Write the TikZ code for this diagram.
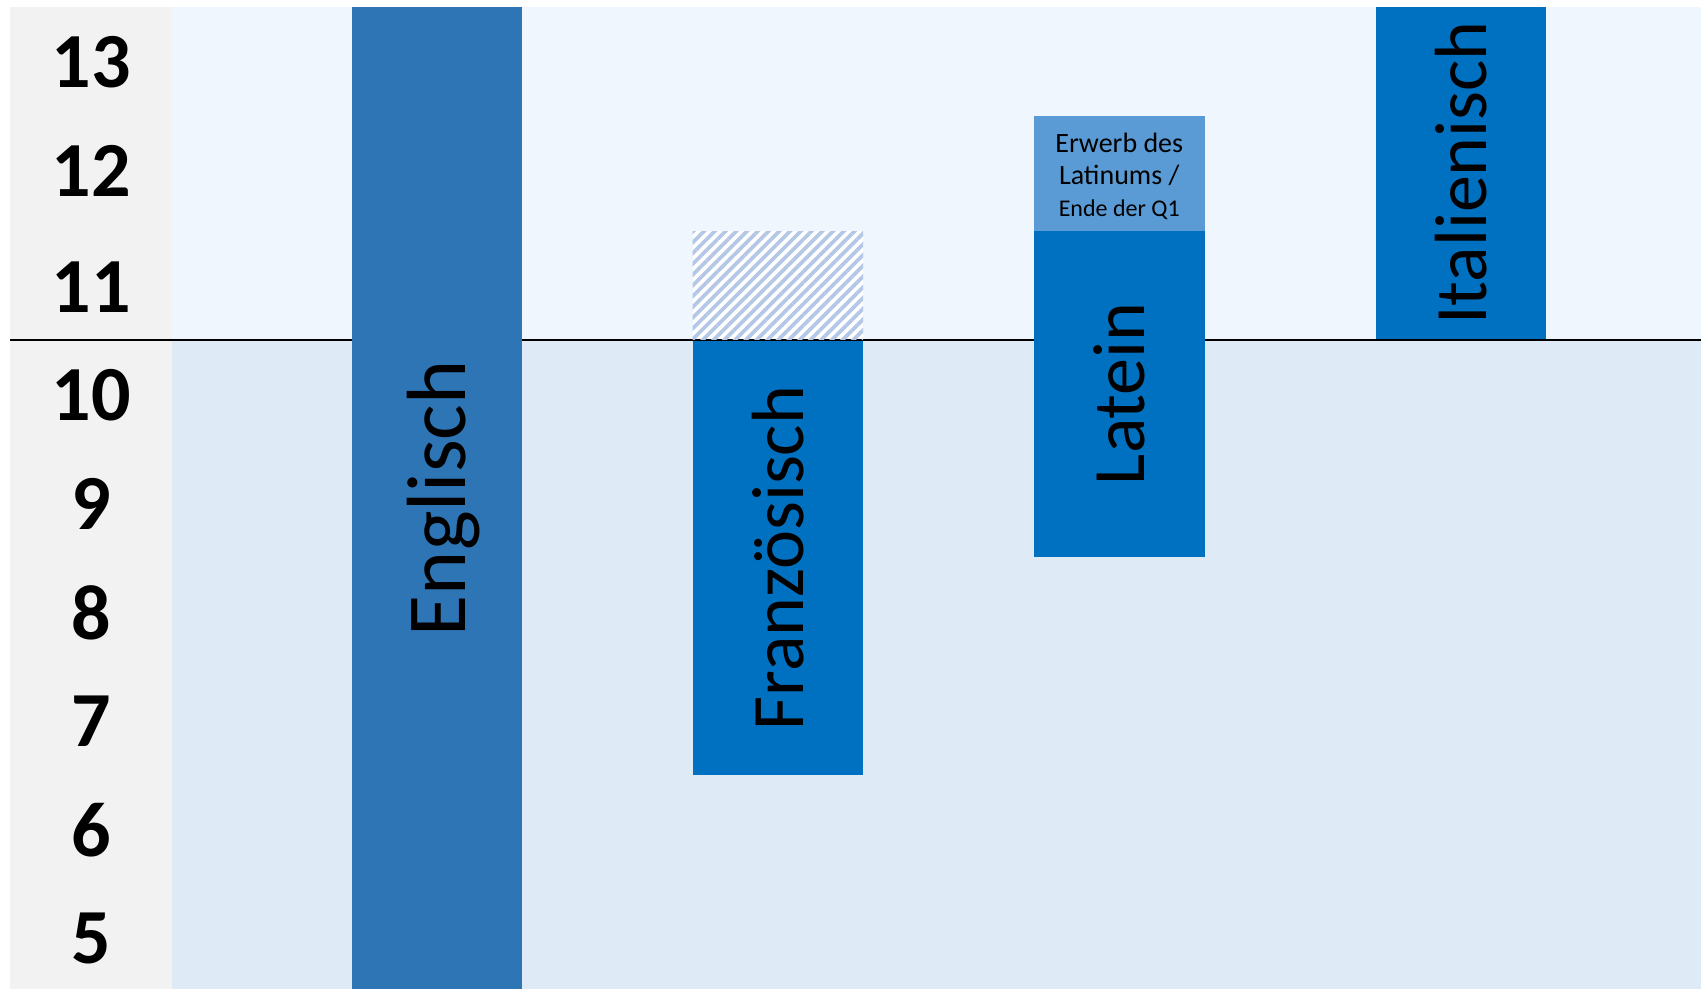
\documentclass[tikz,border=0pt]{standalone}
\usepackage{fontspec}
\setmainfont{Carlito}
\usepackage{xcolor}
\usetikzlibrary{positioning,patterns.meta}

\definecolor{greycol}{HTML}{F2F2F2}
\definecolor{upperbg}{HTML}{EFF6FD}
\definecolor{lowerbg}{HTML}{DEEBF7}
\definecolor{englblue}{HTML}{2E75B6}
\definecolor{darkblue}{HTML}{0070C0}
\definecolor{lightblue}{HTML}{5B9BD5}
\definecolor{hatchblue}{HTML}{B4C7E7}

\begin{document}
\begin{tikzpicture}[x=1pt, y=-1pt,
    bar/.style = {rectangle, inner sep=0pt, outer sep=0pt, anchor=north west},
    lang/.style = {rotate=90, inner sep=0pt, text depth=0pt, font=\fontsize{74}{74}\selectfont},
    num/.style = {inner sep=0pt, font=\fontsize{78}{78}\selectfont\bfseries}]
    \useasboundingbox (0,0) rectangle (1701,989);
    \fill[white] (0,0) rectangle (1701,989);

    % Hintergrund
    \fill[greycol] (10,7.3) rectangle (171.7,989);
    \fill[upperbg] (171.7,7.3) rectangle (1701,340);
    \fill[lowerbg] (171.7,340) rectangle (1701,989);
    \draw[line width=2.7pt] (10,340) -- (1701,340);

    % Jahrgangsstufen
    \node[num] (j13) at (91,62.3) {13};
    \node[num] (j12) at (91,171.4) {12};
    \node[num] (j11) at (91,287.5) {11};
    \node[num] (j10) at (91,395) {10};
    \node[num] (j9) at (91,503.75) {9};
    \node[num] (j8) at (91,612.5) {8};
    \node[num] (j7) at (91,721.25) {7};
    \node[num] (j6) at (91,830) {6};
    \node[num] (j5) at (91,938.75) {5};

    % Englisch
    \node[bar, fill=englblue, minimum width=170.5pt, minimum height=981.7pt] (engl) at (351.5,7.3) {};
    \node[lang, font=\fontsize{84}{84}\selectfont] at (engl.center) {Englisch};

    % Franzoesisch
    \fill[white] (692.5,231) rectangle (863,339);
    \fill[pattern={Lines[angle=45, distance=7.6pt, line width=3.8pt]}, pattern color=hatchblue] (692.5,231) rectangle (863,339);
    \node[bar, fill=darkblue, minimum width=170.5pt, minimum height=433.2pt] (franz) at (692.5,341.3) {};
    \node[lang] at (franz.center) {Französisch};

    % Latein
    \node[bar, fill=lightblue, minimum width=170.5pt, minimum height=115pt] (latin) at (1034,116) {};
    \node[bar, fill=darkblue, minimum width=170.5pt, minimum height=325.5pt] (latein) at (1034,231) {};
    \node[align=center, inner sep=0pt, font=\fontsize{28}{32}\selectfont] at ([yshift=-3pt]latin.center) {Erwerb des\\Latinums /\\{\fontsize{24}{32}\selectfont Ende der Q1}};
    \node[lang] at (latein.center) {Latein};

    % Italienisch
    \node[bar, fill=darkblue, minimum width=170.5pt, minimum height=331.4pt] (ital) at (1375.5,7.3) {};
    \node[lang] at (ital.center) {Italienisch};

\end{tikzpicture}
\end{document}
